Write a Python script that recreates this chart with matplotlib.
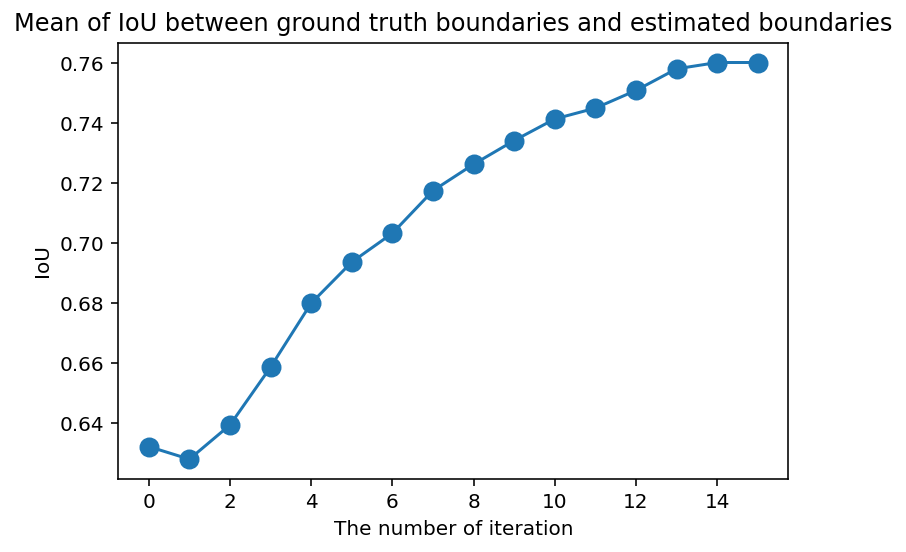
import numpy as np
import matplotlib
matplotlib.use("Agg")
import matplotlib.pyplot as plt

# IoU per iteration
iterations = np.arange(16)
mean_iou = [0.6322, 0.6280, 0.6394, 0.6587, 0.6800, 0.6937, 0.7033, 0.7175,
            0.7263, 0.7342, 0.7414, 0.7450, 0.7509, 0.7581, 0.7602, 0.7602]

fig = plt.figure(figsize=(906 / 144, 552 / 144), dpi=144)
ax = fig.add_axes([0.1306, 0.1322, 0.7395, 0.7905])
ax.plot(iterations, mean_iou, marker="o", markersize=9)
ax.set_xticks(np.arange(0, 16, 2))
ax.set_yticks([0.64, 0.66, 0.68, 0.70, 0.72, 0.74, 0.76])
ax.set_xlabel("The number of iteration")
ax.set_ylabel("IoU")
ax.set_title("Mean of IoU between ground truth boundaries and estimated boundaries")
fig.savefig("out.png", dpi=144)
